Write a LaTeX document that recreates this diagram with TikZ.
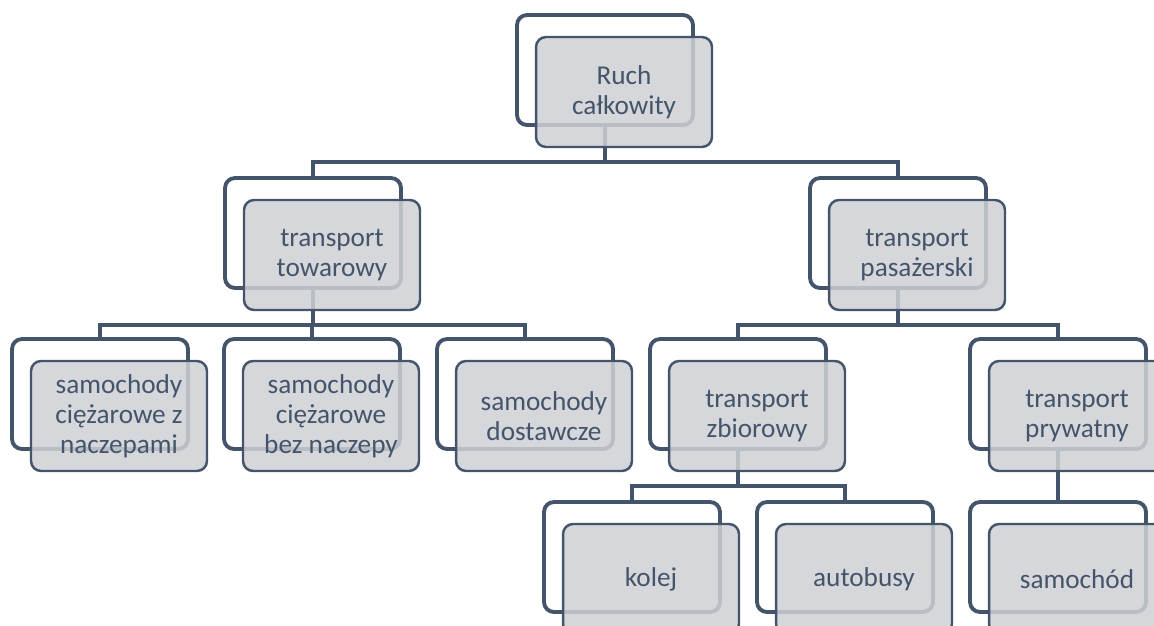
\documentclass[tikz,border=0pt]{standalone}
\usepackage{fontspec}
\setmainfont{Carlito}
\usepackage{tikz}
\usetikzlibrary{calc,positioning}
\usepackage{xcolor}
\definecolor{slate}{RGB}{68,84,106}
\definecolor{boxgray}{RGB}{206,208,212}

\begin{document}
\begin{tikzpicture}[x=0.02cm,y=-0.02cm,
    back/.style={draw=slate,line width=2.2pt,rounded corners=0.2cm,fill=white,minimum width=3.52cm,minimum height=2.2cm},
    front/.style={draw=slate,line width=1.4pt,rounded corners=0.2cm,fill=boxgray,fill opacity=0.85,text opacity=1,text=slate,
        minimum width=3.52cm,minimum height=2.2cm,align=center,font=\fontsize{15.5}{17}\selectfont},
    conn/.style={draw=slate,line width=1.8pt}]
		\useasboundingbox (0,0) rectangle (1154,626);

		% back outlines
		\node[back] (root) at (605,70) {};
		\node[back] (tow) at (313,233) {};
		\node[back] (pas) at (898,233) {};
		\node[back] (nacz) at (100,394) {};
		\node[back] (bez) at (312,394) {};
		\node[back] (dost) at (525,394) {};
		\node[back] (zbior) at (738,394) {};
		\node[back] (pryw) at (1058,394) {};
		\node[back] (kolej) at (632,557) {};
		\node[back] (autob) at (845,557) {};
		\node[back] (samoch) at (1058,557) {};

		% connectors
		\draw[conn] (root.south) -- ++(0,35) -| (tow.north);
		\draw[conn] (root.south) -- ++(0,35) -| (pas.north);
		\draw[conn] (tow.south) -- ++(0,35) -| (nacz.north);
		\draw[conn] (tow.south) -- ++(0,35) -| (bez.north);
		\draw[conn] (tow.south) -- ++(0,35) -| (dost.north);
		\draw[conn] (pas.south) -- ++(0,35) -| (zbior.north);
		\draw[conn] (pas.south) -- ++(0,35) -| (pryw.north);
		\draw[conn] (zbior.south) -- ++(0,35) -| (kolej.north);
		\draw[conn] (zbior.south) -- ++(0,35) -| (autob.north);
		\draw[conn] (pryw.south) -- (samoch.north);

		% front boxes
		\node[front] (rootf) at ($(root)+(19,22)$) {Ruch\\całkowity};
		\node[front] (towf) at ($(tow)+(19,22)$) {transport\\towarowy};
		\node[front] (pasf) at ($(pas)+(19,22)$) {transport\\pasażerski};
		\node[front] (naczf) at ($(nacz)+(19,22)$) {samochody\\ciężarowe z\\naczepami};
		\node[front] (bezf) at ($(bez)+(19,22)$) {samochody\\ciężarowe\\bez naczepy};
		\node[front] (dostf) at ($(dost)+(19,22)$) {samochody\\dostawcze};
		\node[front] (zbiorf) at ($(zbior)+(19,22)$) {transport\\zbiorowy};
		\node[front] (prywf) at ($(pryw)+(19,22)$) {transport\\prywatny};
		\node[front] (kolejf) at ($(kolej)+(19,22)$) {kolej};
		\node[front] (autobf) at ($(autob)+(19,22)$) {autobusy};
		\node[front] (samochf) at ($(samoch)+(19,22)$) {samochód};
\end{tikzpicture}
\end{document}
